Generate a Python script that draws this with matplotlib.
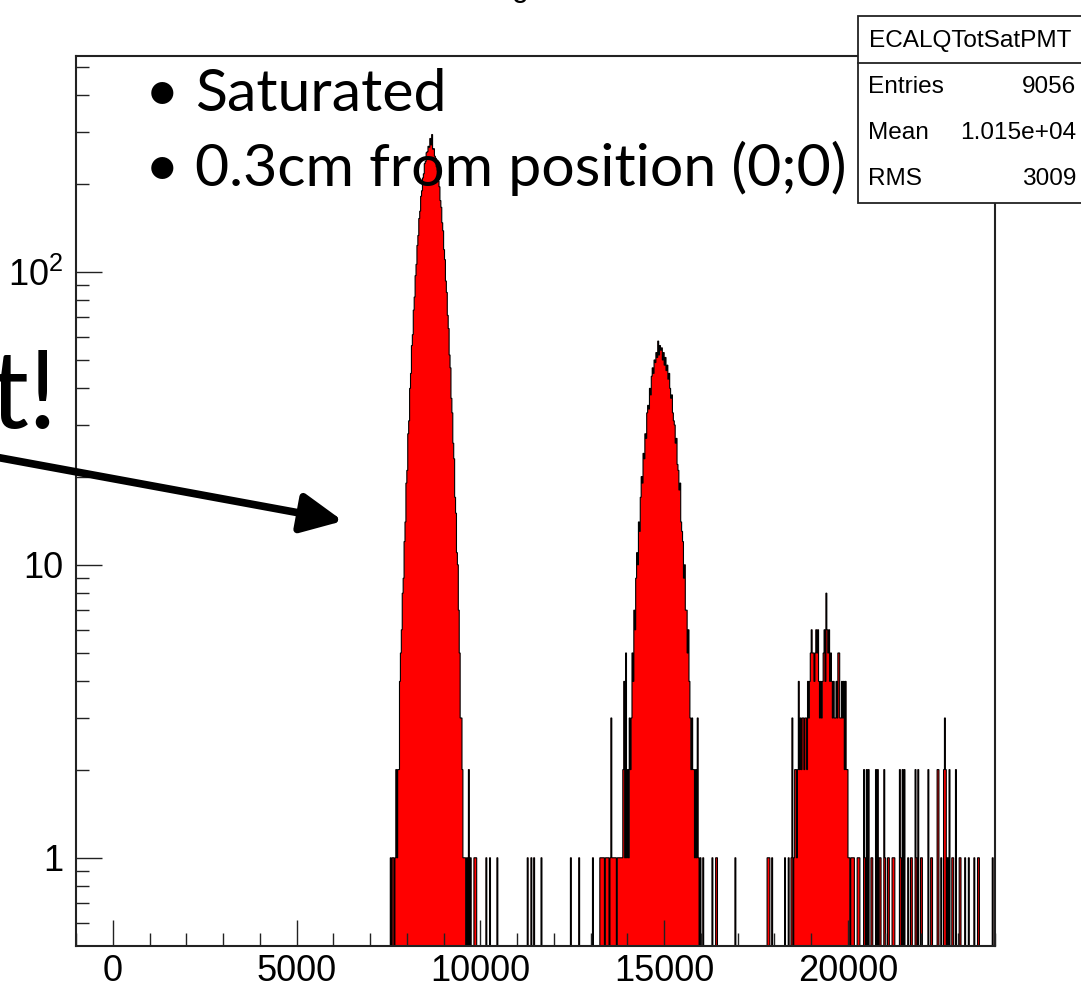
import numpy as np
import matplotlib
matplotlib.use("Agg")
import matplotlib.pyplot as plt
from matplotlib.patches import FancyArrowPatch, Rectangle
from matplotlib.lines import Line2D
from matplotlib.ticker import FixedLocator, FixedFormatter, NullFormatter

plt.rcParams['font.family'] = ['Liberation Sans', 'DejaVu Sans']
plt.rcParams['mathtext.fontset'] = 'custom'
plt.rcParams['mathtext.rm'] = 'Liberation Sans'

# histogram binning (ROOT TH1, 1000 bins)
x_lo, x_hi, n_bins = -1000, 24000, 1000
y_lo, y_hi = 0.5, 545

# first peak, bins from 7550 upwards
peak1_start = 7550
peak1_counts = [1, 0, 1, 1, 0, 1, 2, 1, 2, 2, 4, 5, 6, 8, 9, 12, 14, 19, 21, 28,
                31, 40, 45, 56, 61, 74, 82, 97, 106, 123, 133, 152, 161, 181, 189,
                209, 216, 234, 238, 255, 257, 268, 266, 285, 271, 294, 262, 263, 248,
                244, 228, 222, 204, 195, 175, 166, 147, 138, 119, 110, 93, 85, 71,
                64, 52, 47, 37, 33, 26, 23, 17, 15, 11, 10, 7, 5, 3, 3, 2, 1, 1, 1,
                0, 1]

# second peak with its low side tail, bins from 13250 upwards
peak2_start = 13250
peak2_counts = [1, 1, 1, 1, 1, 0, 1, 1, 1, 1, 0, 1, 3, 1, 1, 1, 1, 1, 0, 1,
                1, 1, 1, 1, 1, 2, 4, 1, 5,
                1, 2, 1, 3, 2, 3, 5, 4, 7, 6, 9, 11, 10, 14, 13, 17, 20, 19, 24, 23,
                28, 27, 33, 35, 34, 40, 38, 44, 47, 45, 50, 49, 53, 51, 58, 52, 56,
                54, 55, 50, 53, 48, 51, 46, 48, 43, 45, 40, 37, 38, 33, 31, 30, 26,
                27, 22, 21, 18, 19, 14, 13, 12, 9, 10, 7, 7, 5, 6, 4, 3, 2, 3, 2, 2,
                1, 2, 1, 3, 1, 0, 1]

# third peak, bins from 18450 upwards
peak3_start = 18450
peak3_counts = [1, 3, 0, 1, 2, 2, 1, 2, 4, 2, 3, 2, 3, 3, 2, 3, 3, 2, 4, 3,
                4, 5, 6, 5, 5, 4, 5, 6, 5, 6, 4, 3, 4, 3, 4, 5, 6, 4, 8, 6,
                5, 6, 4, 5, 4, 3, 4, 3, 3, 4, 3, 5, 5, 3, 3, 4, 3, 4, 2, 4,
                2, 2, 1, 1]

# scattered single bins between and after the peaks (low bin edge, count)
stray_edges = [9675, 9725, 9825, 9850, 9875, 10150, 10250, 10450, 11275, 11375,
               11450, 11650, 12450, 12675, 13050,
               16050, 16300, 16400, 16425, 16925, 17800, 17825, 17850, 17925,
               18275, 18375,
               20075, 20100, 20125, 20150, 20250, 20275, 20300, 20425, 20450, 20500,
               20550, 20625, 20650, 20750, 20800, 20850, 20875, 20975, 21000,
               21075, 21100, 21200, 21225, 21250, 21400, 21425, 21475, 21525, 21625,
               21700, 21725, 21825, 21850, 21900, 21975, 22000, 22175, 22250,
               22275, 22425, 22450, 22525, 22600, 22625, 22650, 22700, 22750,
               22825, 22850, 22925, 23025, 23050, 23175, 23275, 23425, 23525,
               23550, 23925]
stray_counts = [2, 1, 1, 1, 1, 1, 1, 1, 1, 1,
                1, 1, 1, 1, 1,
                1, 1, 1, 1, 1, 1, 1, 1, 1,
                1, 1,
                1, 1, 1, 1, 1, 1, 1, 2, 1, 2,
                2, 1, 1, 2, 2, 1, 1, 2, 1,
                1, 1, 1, 1, 1, 2, 1, 2, 2, 1,
                1, 1, 2, 1, 2, 1, 1, 2, 1,
                1, 2, 2, 1, 2, 3, 2, 1, 2,
                1, 1, 2, 1, 1, 1, 1, 1, 1,
                1, 1]

stats_name = "ECALQTotSatPMT"
stats_labels = ["Entries", "Mean", "RMS"]
stats_values = ["9056", "1.015e+04", "3009"]
bullet_lines = ["Saturated", "0.3cm from position (0;0)"]

edges = np.linspace(x_lo, x_hi, n_bins + 1)
bin_w = (x_hi - x_lo) / n_bins
counts = np.zeros(n_bins)


def put(start, vals):
    i0 = int(round((start - x_lo) / bin_w))
    counts[i0:i0 + len(vals)] = vals


put(peak1_start, peak1_counts)
put(peak2_start, peak2_counts)
put(peak3_start, peak3_counts)
for e, c in zip(stray_edges, stray_counts):
    put(e, [c])

# empty bins sit on the bottom of the log axis
shown = np.where(counts > 0, counts, y_lo)

W, H = 1081, 988
fig = plt.figure(figsize=(W / 100, H / 100), dpi=100)
ax = fig.add_axes([76 / W, 1 - 946 / H, (995 - 76) / W, (946 - 56) / H])

ax.stairs(shown, edges, baseline=y_lo, fill=True, facecolor='red', lw=0)
ax.stairs(shown, edges, baseline=y_lo, color='black', lw=0.8)

ax.set_yscale('log')
ax.set_xlim(x_lo, x_hi)
ax.set_ylim(y_lo, y_hi)

for s in ax.spines.values():
    s.set_linewidth(1.5)
    s.set_color('#222222')

ax.xaxis.set_major_locator(FixedLocator([0, 5000, 10000, 15000, 20000]))
ax.xaxis.set_minor_locator(FixedLocator(np.arange(-1000, 24001, 1000)))
ax.yaxis.set_major_locator(FixedLocator([1, 10, 100]))
ax.yaxis.set_major_formatter(FixedFormatter(['1', '10', r'$\mathregular{10^{2}}$']))
yminor = [0.6, 0.7, 0.8, 0.9] + [k for k in range(2, 10)] + [10 * k for k in range(2, 10)] + [200, 300, 400, 500]
ax.yaxis.set_minor_locator(FixedLocator(yminor))
ax.yaxis.set_minor_formatter(NullFormatter())

ax.tick_params(which='both', direction='in', top=False, right=False, width=1.0, color='#222222')
ax.tick_params(which='major', length=19, labelsize=26)
ax.tick_params(which='minor', length=9.5)
ax.tick_params(axis='x', which='major', pad=6)
ax.tick_params(axis='y', which='major', pad=9)

# stats box
box_l, box_t, box_b = 858 / W, 1 - 16 / H, 1 - 203 / H
fig.add_artist(Rectangle((box_l, box_b), 1.1 - box_l, box_t - box_b, transform=fig.transFigure,
                         facecolor='white', edgecolor='#222222', lw=1.3, zorder=5))
fig.add_artist(Line2D([box_l, 1.1], [1 - 63 / H] * 2, transform=fig.transFigure,
                      color='#222222', lw=1.3, zorder=6))
fig.text(869 / W, 1 - 41 / H, stats_name, fontsize=17.6, va='center', ha='left', zorder=7)
for k, (lab, val) in enumerate(zip(stats_labels, stats_values)):
    yc = 1 - (87 + 46 * k) / H
    fig.text(868 / W, yc, lab, fontsize=17.6, va='center', ha='left', zorder=7)
    fig.text(1076 / W, yc, val, fontsize=17.6, va='center', ha='right', zorder=7)

# slide annotations
for k, line in enumerate(bullet_lines):
    yb = 1 - (111 + 75 * k) / H
    fig.text(162 / W, yb, "\u2022", fontsize=43, family='Lato', ha='center', va='baseline', zorder=8)
    fig.text(195 / W, yb, line, fontsize=42.5, family='Lato', ha='left', va='baseline', zorder=8)

fig.text(58 / W, 1 - 428 / H, "t!", fontsize=78, family='Lato', ha='right', va='baseline', zorder=8)
fig.text(520 / W, 1 + 4 / H, "g", fontsize=22, ha='center', va='baseline')

fig.add_artist(FancyArrowPatch((-10 / W, 1 - 456 / H), (343 / W, 1 - 521 / H),
                               transform=fig.transFigure, arrowstyle='-|>,head_length=0.5,head_width=0.24',
                               mutation_scale=50, lw=5.5, color='black', zorder=8,
                               shrinkA=0, shrinkB=0))

fig.savefig('out.png', dpi=100)
